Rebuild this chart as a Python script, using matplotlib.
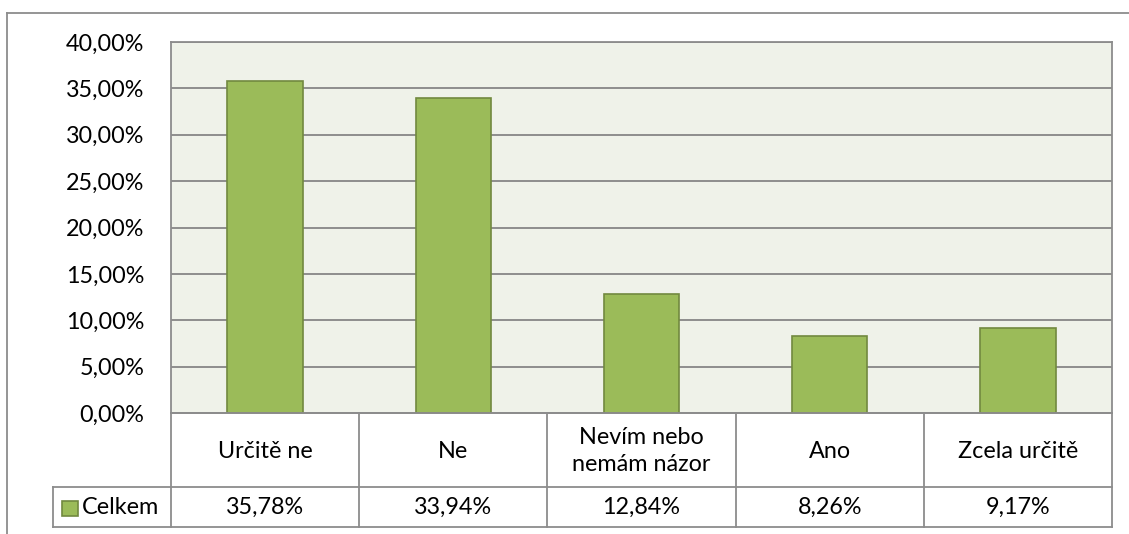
import matplotlib
matplotlib.use("Agg")
import matplotlib.pyplot as plt
from matplotlib.patches import Rectangle

categories = ["Určitě ne", "Ne", "Nevím nebo\nnemám názor", "Ano", "Zcela určitě"]
values = [35.78, 33.94, 12.84, 8.26, 9.17]
series_name = "Celkem"
yticks = [0, 5, 10, 15, 20, 25, 30, 35, 40]

W, H = 1129, 534
DPI = 100
plt.rcParams['font.family'] = ['Lato', 'DejaVu Sans']
FS = 16.8

BAR = "#9BBB59"
BAR_EDGE = "#71893F"
PLOT_BG = "#EFF2E9"
GRID = "#868686"
BORDER = "#8C8C8C"

fig = plt.figure(figsize=(W / DPI, H / DPI), dpi=DPI)
fig.patch.set_facecolor("white")

def fx(px):
    return px / W

def fy(py):
    return 1 - py / H

L, R, T, B = 171, 1112, 42, 413
ax = fig.add_axes([fx(L), fy(B), fx(R) - fx(L), fy(T) - fy(B)])
ax.set_facecolor(PLOT_BG)
x = list(range(len(categories)))
ax.bar(x, values, width=0.4, color=BAR, edgecolor=BAR_EDGE, linewidth=1.2, zorder=3)
ax.set_xlim(-0.5, len(categories) - 0.5)
ax.set_ylim(0, 40)
ax.set_yticks(yticks)
ax.set_yticklabels([f"{v:.2f}".replace(".", ",") + "%" for v in yticks], fontsize=FS)
ax.tick_params(axis="y", length=0, pad=19)
ax.set_xticks([])
ax.grid(axis="y", color=GRID, linewidth=1.3, zorder=1)
for s in ax.spines.values():
    s.set_color(BORDER)
    s.set_linewidth(1.3)

# overlays in pixel coordinates
ov = fig.add_axes([0, 0, 1, 1], zorder=-1)
ov.set_xlim(0, W)
ov.set_ylim(H, 0)
ov.axis("off")
ov.patch.set_alpha(0)

ov2 = fig.add_axes([0, 0, 1, 1], zorder=5)
ov2.set_xlim(0, W)
ov2.set_ylim(H, 0)
ov2.axis("off")
ov2.patch.set_alpha(0)

# outer chart frame (cropped at right/bottom)
ov.plot([7, W + 5], [13, 13], color=BORDER, lw=1.3)
ov.plot([7, 7], [13, H + 5], color=BORDER, lw=1.3)

# data table
fig.canvas.draw()
to_px = lambda xd: fig.transFigure.inverted().transform(ax.transData.transform((xd, 0)))[0] * W
bounds = [to_px(i - 0.5) for i in range(len(categories) + 1)]
row1_bot = 487
row2_bot = 527
leg_left = 53
lc = dict(color=BORDER, lw=1.3)
ov2.plot([bounds[0], bounds[-1]], [B, B], **lc)
ov2.plot([leg_left, bounds[-1]], [row1_bot, row1_bot], **lc)
ov2.plot([leg_left, bounds[-1]], [row2_bot, row2_bot], **lc)
ov2.plot([leg_left, leg_left], [row1_bot, row2_bot], **lc)
for b in bounds:
    ov2.plot([b, b], [B, row2_bot], **lc)
for i, (c, v) in enumerate(zip(categories, values)):
    cx = (bounds[i] + bounds[i + 1]) / 2
    ov2.text(cx, (B + row1_bot) / 2 + 1, c, ha="center", va="center", fontsize=FS,
             linespacing=1.35, color="black")
    ov2.text(cx, (row1_bot + row2_bot) / 2, f"{v:.2f}".replace(".", ",") + "%",
             ha="center", va="center", fontsize=FS, color="black")
# legend key
ov2.add_patch(Rectangle((62, 501), 16, 15, facecolor=BAR, edgecolor=BAR_EDGE, lw=1.2))
ov2.text(82, (row1_bot + row2_bot) / 2, series_name, ha="left", va="center",
         fontsize=FS, color="black")

fig.savefig("out.png", dpi=DPI)
